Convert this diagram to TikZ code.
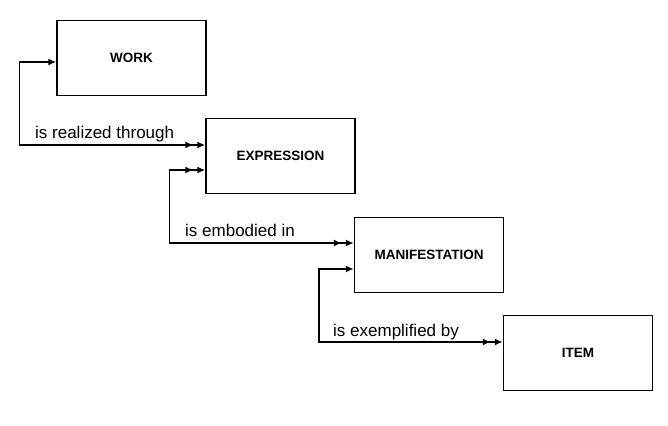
\documentclass[tikz,border=0pt]{standalone}
\usepackage{fontspec}
\setmainfont{Liberation Sans}
\usetikzlibrary{arrows.meta}
\tikzset{
  box/.style={draw, line width=1.5pt, rectangle, minimum width=149pt, minimum height=75pt, inner sep=0pt, font=\fontsize{13.5}{16}\selectfont\bfseries},
  lab/.style={anchor=base west, inner sep=0pt, font=\fontsize{17}{20}\selectfont},
  conn/.style={line width=1.5pt},
  tp/.tip={Latex[length=8pt,width=7pt]},
  tpd/.tip={Latex[length=8pt,width=7pt,sep=4pt]Latex[length=8pt,width=7pt]},
}
\begin{document}
\begin{tikzpicture}[x=1pt,y=-1pt]
\useasboundingbox (0,0) rectangle (668,425);
\node[box] (work) at (131.5,58) {WORK};
\node[box] (expression) at (280.5,156) {EXPRESSION};
\node[box] (manifestation) at (429,255) {MANIFESTATION};
\node[box] (item) at (578,353) {ITEM};
\draw[conn,{tp}-{tpd}] ([yshift=-4pt]work.west) -- ++(-37,0) |- ([yshift=11pt]expression.west);
\draw[conn,{tpd}-{tpd}] ([yshift=-14pt]expression.west) -- ++(-36,0) |- ([yshift=12pt]manifestation.west);
\draw[conn,{tp}-{tpd}] ([yshift=-14pt]manifestation.west) -- ++(-35,0) |- ([yshift=11pt]item.west);
\node[lab] (l1) at (35,138) {is realized through};
\node[lab] (l2) at (185,236) {is embodied in};
\node[lab] (l3) at (333,336) {is exemplified by};
\end{tikzpicture}
\end{document}
